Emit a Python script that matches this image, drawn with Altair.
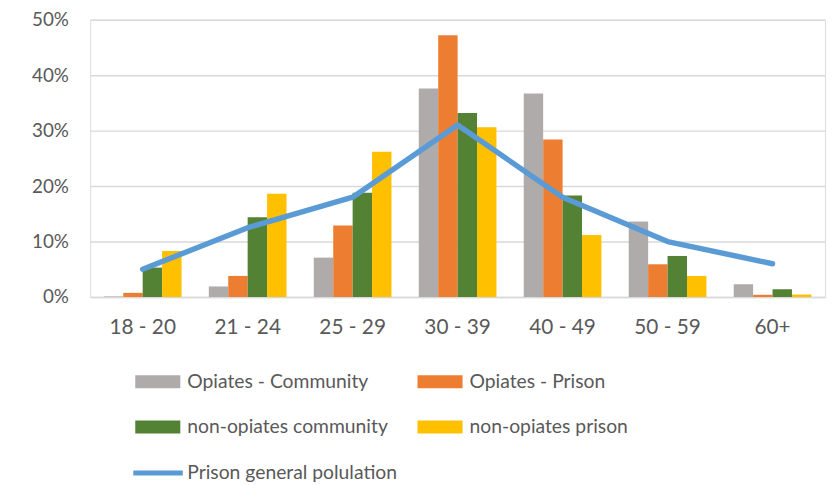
import altair as alt
import pandas as pd

categories = ["18 - 20", "21 - 24", "25 - 29", "30 - 39", "40 - 49", "50 - 59", "60+"]
series_names = ["Opiates - Community", "Opiates - Prison", "non-opiates community", "non-opiates prison"]
opiates_community = [0.1, 1.9, 7.1, 37.6, 36.7, 13.6, 2.3]
opiates_prison = [0.75, 3.8, 12.9, 47.2, 28.4, 5.9, 0.4]
nonopiates_community = [5.3, 14.4, 18.8, 33.2, 18.3, 7.4, 1.4]
nonopiates_prison = [8.3, 18.6, 26.2, 30.6, 11.2, 3.8, 0.45]
line_name = "Prison general polulation"
prison_general = [5.0, 12.5, 18.0, 31.0, 18.0, 10.0, 6.0]
bar_colors = ["#AFABAB", "#ED7D31", "#548235", "#FFC000"]
line_color = "#5B9BD5"

rows = []
for name, vals in zip(series_names, [opiates_community, opiates_prison, nonopiates_community, nonopiates_prison]):
    for c, v in zip(categories, vals):
        rows.append({"age": c, "series": name, "value": v / 100})
bars_df = pd.DataFrame(rows)
line_df = pd.DataFrame({"age": categories, "value": [v / 100 for v in prison_general], "series": line_name})

FONT = "Lato"
TXT = "#595959"

x_enc = alt.X("age:N", sort=categories, title=None,
              scale=alt.Scale(paddingInner=0.26, paddingOuter=0.13),
              axis=alt.Axis(labelAngle=0, labelFontSize=21, labelColor=TXT, labelFont=FONT,
                            labelPadding=20, ticks=False, domainColor="#D9D9D9", domainWidth=1.5))
y_enc = alt.Y("value:Q", title=None,
              scale=alt.Scale(domain=[0, 0.5], nice=False),
              axis=alt.Axis(format=".0%", values=[0, 0.1, 0.2, 0.3, 0.4, 0.5], labelFontSize=19,
                            labelColor=TXT, labelFont=FONT, labelPadding=22, ticks=False,
                            domain=False, gridColor="#D9D9D9", gridWidth=1.5))

bars = alt.Chart(bars_df).mark_bar().encode(
    x=x_enc,
    y=y_enc,
    xOffset=alt.XOffset("series:N", sort=series_names, scale=alt.Scale(paddingInner=0, paddingOuter=0)),
    color=alt.Color("series:N", sort=series_names,
                    scale=alt.Scale(domain=series_names, range=bar_colors),
                    legend=alt.Legend(title=None, orient="none", legendX=58.5, legendY=355.5,
                                      direction="horizontal", columns=2, columnPadding=29,
                                      rowPadding=25,
                                      symbolType="M-3.5,-1H3.5V1H-3.5Z", symbolSize=169,
                                      symbolStrokeWidth=0, labelOffset=20, labelFontSize=19.5,
                                      labelColor=TXT, labelFont=FONT, padding=0, labelLimit=400)),
)

line = alt.Chart(line_df).mark_line(strokeWidth=5.5, strokeCap="round", strokeJoin="round").encode(
    x=alt.X("age:N", sort=categories),
    y="value:Q",
    stroke=alt.Stroke("series:N", scale=alt.Scale(domain=[line_name], range=[line_color]),
                      legend=alt.Legend(title=None, orient="none", legendX=41, legendY=430.2,
                                        symbolType="stroke", symbolSize=2500, symbolStrokeWidth=5,
                                        labelOffset=2, labelFontSize=19.5, labelColor=TXT,
                                        labelFont=FONT, padding=0, labelLimit=400)),
)

chart = alt.layer(bars, line).properties(
    width=742, height=280,
    autosize=alt.AutoSizeParams(type="none"),
    padding={"left": 83, "top": 9.5, "right": 3, "bottom": 186},
).configure_view(stroke=None).configure(font=FONT)

chart.save("out.html", embed_options={"renderer": "svg", "actions": False})
